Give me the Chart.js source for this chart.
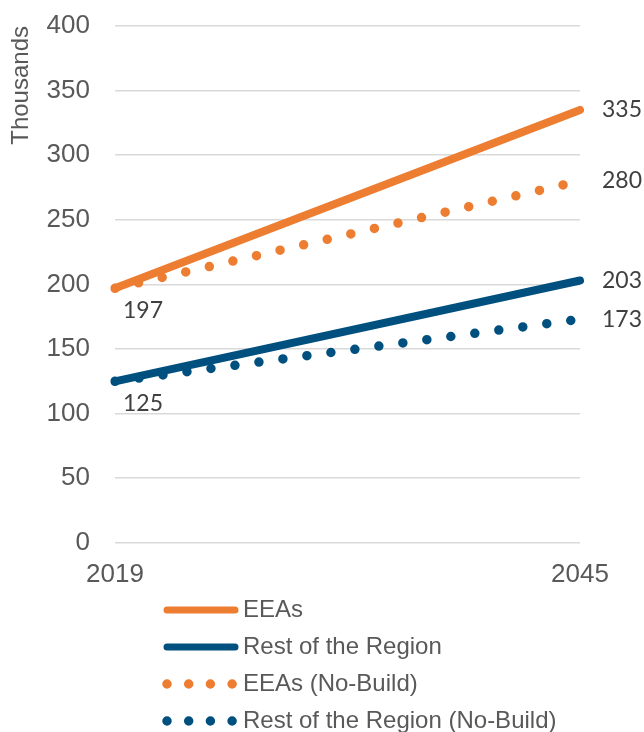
<!DOCTYPE html>
<html>
<head>
<meta charset="utf-8">
<script src="https://cdn.jsdelivr.net/npm/chart.js@4.4.1/dist/chart.umd.min.js"></script>
<style>
  html, body { margin: 0; padding: 0; background: #ffffff; }
  #wrap { width: 644px; height: 732px; position: relative; }
</style>
</head>
<body>
<div id="wrap"><canvas id="c" width="644" height="732"></canvas></div>
<script>
// ---- Data ----
const years = ['2019', '2045'];
const eeas = [197, 335];
const restOfRegion = [125, 203];
const eeasNoBuild = [197, 280];
const restNoBuild = [125, 173];
const yTicks = [0, 50, 100, 150, 200, 250, 300, 350, 400];
const seriesNames = ['EEAs', 'Rest of the Region', 'EEAs (No-Build)', 'Rest of the Region (No-Build)'];

const ORANGE = '#ED7D31';
const BLUE = '#00507F';
const TICK_FONT = { family: 'Liberation Sans, Arial, sans-serif', size: 26 };

// Data labels: last value of each series, and first value of solid series
const valueLabels = {
  id: 'valueLabels',
  afterDatasetsDraw(chart) {
    const ctx = chart.ctx;
    ctx.save();
    ctx.font = '23px Lato, "Liberation Sans", sans-serif';
    ctx.fillStyle = '#404040';
    ctx.textBaseline = 'middle';
    chart.data.datasets.forEach((ds, i) => {
      const meta = chart.getDatasetMeta(i);
      const pts = meta.data;
      const last = pts[pts.length - 1];
      ctx.textAlign = 'left';
      ctx.fillText(String(ds.data[ds.data.length - 1]), last.x + 22, last.y);
      if (ds.labelFirst) {
        const first = pts[0];
        ctx.textAlign = 'center';
        ctx.fillText(String(ds.data[0]), first.x + 28, first.y + 22);
      }
    });
    ctx.restore();
  }
};

// Stacked (one per row) legend below the axis
const stackedLegend = {
  id: 'stackedLegend',
  afterDraw(chart) {
    const ctx = chart.ctx;
    ctx.save();
    ctx.font = '24px "Liberation Sans", Arial, sans-serif';
    ctx.textBaseline = 'middle';
    ctx.textAlign = 'left';
    const x0 = 167, x1 = 235, tx = 243, y0 = 610, dy = 37;
    chart.data.datasets.forEach((ds, i) => {
      const y = y0 + i * dy;
      const dotted = ds.borderDash && ds.borderDash.length;
      ctx.beginPath();
      ctx.strokeStyle = ds.borderColor;
      ctx.lineCap = 'round';
      ctx.lineWidth = dotted ? 9.5 : 7;
      ctx.setLineDash(dotted ? [0, 21.7] : []);
      ctx.moveTo(x0, y);
      ctx.lineTo(x1, y);
      ctx.stroke();
      ctx.setLineDash([]);
      ctx.fillStyle = '#595959';
      ctx.fillText(ds.label, tx, y);
    });
    ctx.restore();
  }
};

new Chart(document.getElementById('c'), {
  type: 'line',
  data: {
    labels: years,
    datasets: [
      { label: seriesNames[0], data: eeas, borderColor: ORANGE, backgroundColor: ORANGE,
        borderWidth: 8, borderCapStyle: 'round', pointRadius: 0, labelFirst: true, order: 2 },
      { label: seriesNames[1], data: restOfRegion, borderColor: BLUE, backgroundColor: BLUE,
        borderWidth: 8, borderCapStyle: 'round', pointRadius: 0, labelFirst: true, order: 2 },
      { label: seriesNames[2], data: eeasNoBuild, borderColor: ORANGE, backgroundColor: ORANGE,
        borderWidth: 9.5, borderCapStyle: 'round', borderDash: [0, 24.2], pointRadius: 0, labelFirst: false, order: 1 },
      { label: seriesNames[3], data: restNoBuild, borderColor: BLUE, backgroundColor: BLUE,
        borderWidth: 9.5, borderCapStyle: 'round', borderDash: [0, 24.2], pointRadius: 0, labelFirst: false, order: 1 }
    ]
  },
  options: {
    responsive: false,
    animation: false,
    layout: { padding: { left: 0, right: 64, top: 26, bottom: 126 } },
    plugins: {
      legend: { display: false },
      tooltip: { enabled: false }
    },
    scales: {
      x: {
        type: 'category',
        offset: false,
        grid: { display: false, drawTicks: false },
        border: { display: false },
        ticks: { color: '#595959', font: TICK_FONT, padding: 16, maxRotation: 0, autoSkip: false }
      },
      y: {
        min: yTicks[0],
        max: yTicks[yTicks.length - 1],
        afterBuildTicks(scale) { scale.ticks = yTicks.map(v => ({ value: v })); },
        afterFit(scale) { scale.width = 115; scale.paddingTop = 0; },
        grid: { color: '#D9D9D9', lineWidth: 1.5, drawTicks: false },
        border: { display: false },
        ticks: { color: '#595959', font: TICK_FONT, padding: 25 },
        title: {
          display: true,
          text: 'Thousands',
          align: 'end',
          color: '#595959',
          font: { family: 'Liberation Sans, Arial, sans-serif', size: 24 },
          padding: { top: 7, bottom: 0 }
        }
      }
    }
  },
  plugins: [valueLabels, stackedLegend]
});
</script>
</body>
</html>
